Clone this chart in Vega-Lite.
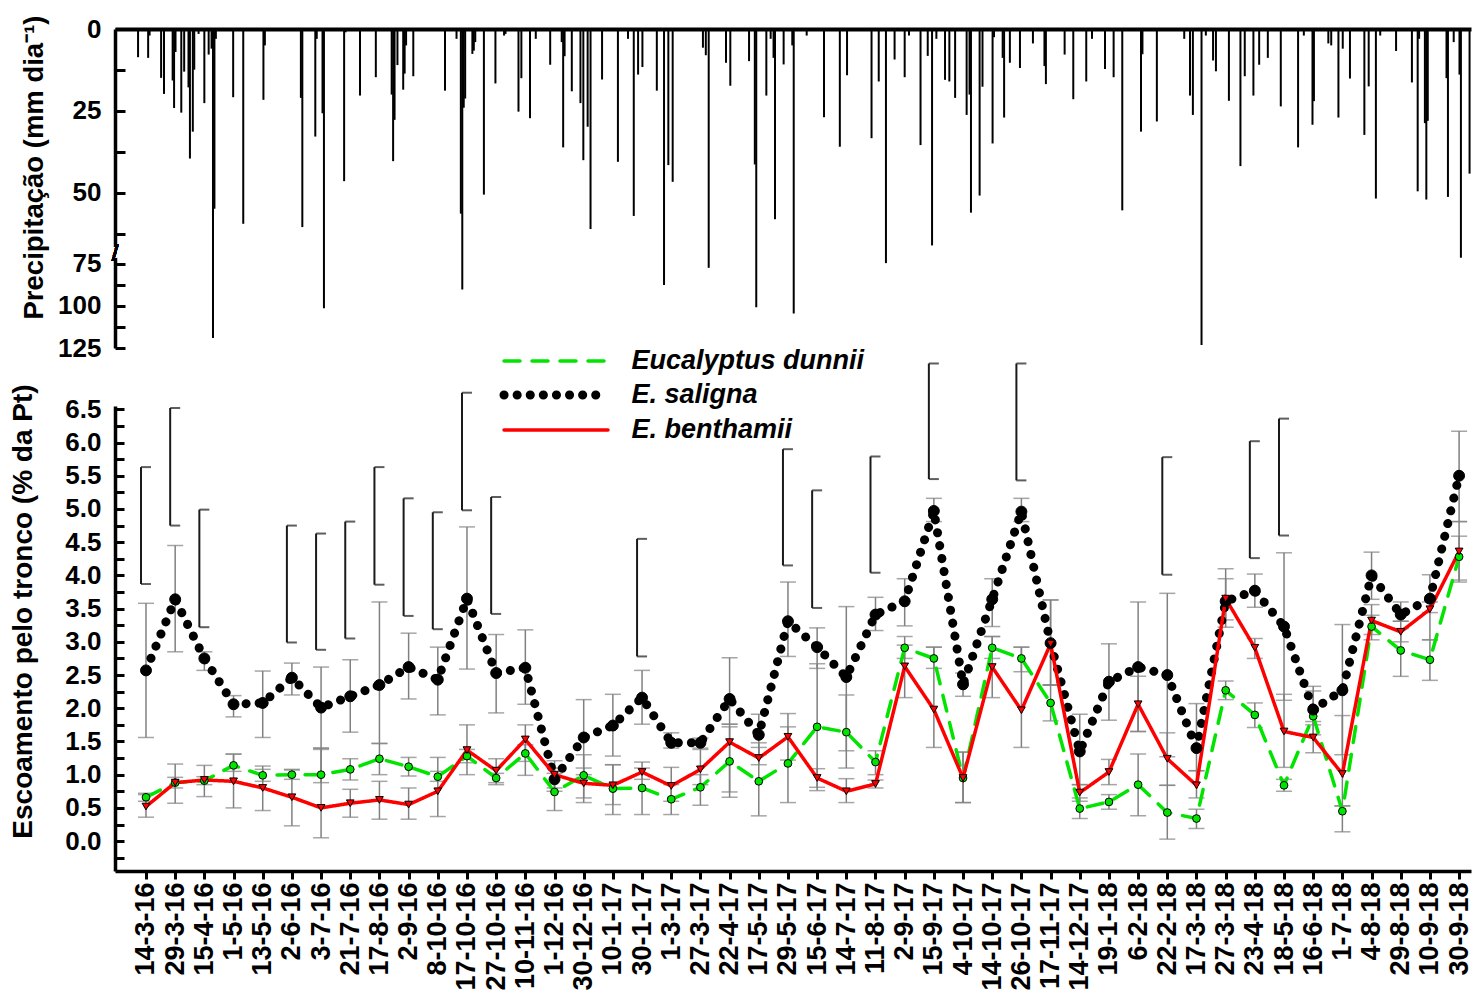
{
  "$schema": "https://vega.github.io/schema/vega-lite/v6.json",
  "background": "white",
  "padding": {"left": 8, "top": 15, "right": 0, "bottom": 0},
  "bounds": "flush",
  "spacing": 58,
  "config": {
    "font": "Liberation Sans",
    "view": {"stroke": null},
    "axis": {
      "labelFont": "Liberation Sans", "labelFontSize": 26, "labelFontWeight": "bold", "labelColor": "#000",
      "titleFont": "Liberation Sans", "titleFontSize": 28, "titleFontWeight": "bold", "titleColor": "#000",
      "domainColor": "#000", "tickColor": "#000", "grid": false, "labelOverlap": false
    }
  },
  "datasets": {
    "prec": [
      {"dia":16,"p":8.6},{"dia":23,"p":8.8},{"dia":24,"p":2},{"dia":32,"p":14.9},{"dia":34,"p":19.8},{"dia":40,"p":15.7},{"dia":41,"p":24.1},{"dia":42,"p":7},{"dia":46,"p":25.5},{"dia":48,"p":13},{"dia":51,"p":17.8},{"dia":52,"p":39.5},{"dia":54,"p":31.3},{"dia":55,"p":12.4},{"dia":58,"p":1.5},{"dia":62,"p":22.6},{"dia":65,"p":7.8},{"dia":67,"p":6},{"dia":68,"p":119},{"dia":69,"p":54.8},{"dia":70,"p":3},{"dia":82,"p":20.8},{"dia":89,"p":59.4},{"dia":103,"p":21.6},{"dia":104,"p":5},{"dia":129,"p":21},{"dia":130,"p":60.4},{"dia":139,"p":32.8},{"dia":140,"p":3},{"dia":144,"p":25.7},{"dia":145,"p":101.4},{"dia":159,"p":46.4},{"dia":160,"p":1},{"dia":170,"p":20.3},{"dia":181,"p":14.7},{"dia":192,"p":20},{"dia":193,"p":40.3},{"dia":194,"p":27.7},{"dia":196,"p":11},{"dia":200,"p":18.5},{"dia":201,"p":13.6},{"dia":202,"p":5},{"dia":207,"p":14.4},{"dia":229,"p":18.8},{"dia":237,"p":3},{"dia":240,"p":56.3},{"dia":241,"p":90.2},{"dia":242,"p":24},{"dia":243,"p":21.2},{"dia":248,"p":7.6},{"dia":249,"p":6.6},{"dia":250,"p":4},{"dia":256,"p":50.5},{"dia":264,"p":16.6},{"dia":270,"p":2},{"dia":271,"p":1.5},{"dia":280,"p":25.2},{"dia":282,"p":15},{"dia":288,"p":27.2},{"dia":292,"p":3},{"dia":302,"p":10.9},{"dia":310,"p":4},{"dia":311,"p":36.1},{"dia":312,"p":8.3},{"dia":317,"p":19},{"dia":323,"p":22.6},{"dia":325,"p":40},{"dia":328,"p":29.8},{"dia":330,"p":61},{"dia":338,"p":15.4},{"dia":349,"p":40.5},{"dia":356,"p":3},{"dia":360,"p":57},{"dia":363,"p":13.9},{"dia":366,"p":11.6},{"dia":376,"p":18.8},{"dia":381,"p":87.6},{"dia":384,"p":41.5},{"dia":387,"p":46.6},{"dia":408,"p":5.7},{"dia":410,"p":8},{"dia":412,"p":77.4},{"dia":424,"p":10.3},{"dia":427,"p":17.3},{"dia":440,"p":9.8},{"dia":444,"p":41.3},{"dia":445,"p":100.8},{"dia":452,"p":20.3},{"dia":455,"p":3},{"dia":457,"p":8.8},{"dia":458,"p":58},{"dia":464,"p":10.8},{"dia":470,"p":5},{"dia":471,"p":104.5},{"dia":480,"p":2},{"dia":492,"p":26.9},{"dia":503,"p":35.9},{"dia":508,"p":14.1},{"dia":525,"p":33.3},{"dia":530,"p":16},{"dia":535,"p":74.6},{"dia":541,"p":9.3},{"dia":548,"p":14.7},{"dia":551,"p":2},{"dia":559,"p":35.4},{"dia":564,"p":8.2},{"dia":567,"p":66},{"dia":570,"p":3},{"dia":576,"p":15.5},{"dia":579,"p":16},{"dia":583,"p":21},{"dia":591,"p":26.2},{"dia":593,"p":20},{"dia":594,"p":56},{"dia":600,"p":50.8},{"dia":602,"p":17.6},{"dia":609,"p":34.9},{"dia":610,"p":2.5},{"dia":616,"p":8.8},{"dia":617,"p":27},{"dia":621,"p":10.3},{"dia":628,"p":11.9},{"dia":637,"p":4.4},{"dia":645,"p":11.3},{"dia":646,"p":16.8},{"dia":659,"p":7.8},{"dia":665,"p":21.4},{"dia":674,"p":16},{"dia":678,"p":3},{"dia":687,"p":12.2},{"dia":693,"p":14.7},{"dia":699,"p":55.3},{"dia":712,"p":31.3},{"dia":713,"p":7.7},{"dia":723,"p":28.2},{"dia":742,"p":3},{"dia":746,"p":20.3},{"dia":748,"p":26.2},{"dia":754,"p":123.2},{"dia":757,"p":2},{"dia":762,"p":9.6},{"dia":764,"p":12.9},{"dia":773,"p":21.9},{"dia":781,"p":41.8},{"dia":784,"p":14.4},{"dia":790,"p":20.3},{"dia":794,"p":10.9},{"dia":800,"p":8.8},{"dia":809,"p":23.6},{"dia":821,"p":36.1},{"dia":825,"p":2},{"dia":831,"p":29.2},{"dia":832,"p":22},{"dia":842,"p":4.4},{"dia":844,"p":5},{"dia":849,"p":27},{"dia":852,"p":6},{"dia":857,"p":15.1},{"dia":867,"p":32.3},{"dia":870,"p":17.5},{"dia":875,"p":51.7},{"dia":878,"p":2},{"dia":889,"p":6.7},{"dia":900,"p":16.3},{"dia":904,"p":49.5},{"dia":905,"p":3},{"dia":909,"p":28.7},{"dia":910,"p":52},{"dia":911,"p":28},{"dia":924,"p":15},{"dia":925,"p":51.2},{"dia":929,"p":4},{"dia":933,"p":13.9},{"dia":934,"p":71.4},{"dia":940,"p":44.1}
    ],
    "colchetes": [
      {"coleta":"14-3-16","lo":3.87,"hi":5.63},{"coleta":"29-3-16","lo":4.75,"hi":6.52},{"coleta":"15-4-16","lo":3.22,"hi":4.99},{"coleta":"2-6-16","lo":2.99,"hi":4.75},{"coleta":"3-7-16","lo":2.88,"hi":4.63},{"coleta":"21-7-16","lo":3.05,"hi":4.81},{"coleta":"17-8-16","lo":3.86,"hi":5.63},{"coleta":"2-9-16","lo":3.39,"hi":5.16},{"coleta":"8-10-16","lo":3.19,"hi":4.95},{"coleta":"17-10-16","lo":4.98,"hi":6.75},{"coleta":"27-10-16","lo":3.42,"hi":5.18},{"coleta":"30-1-17","lo":2.78,"hi":4.55},{"coleta":"29-5-17","lo":4.15,"hi":5.9},{"coleta":"15-6-17","lo":3.51,"hi":5.28},{"coleta":"11-8-17","lo":4.04,"hi":5.79},{"coleta":"15-9-17","lo":5.45,"hi":7.19},{"coleta":"26-10-17","lo":5.43,"hi":7.19},{"coleta":"22-2-18","lo":4.01,"hi":5.78},{"coleta":"23-4-18","lo":4.26,"hi":6.02},{"coleta":"18-5-18","lo":4.6,"hi":6.36}
    ],
    "esc": [
      {"coleta":"14-3-16","especie":"Eucalyptus dunnii","v":0.66,"lo":0.6,"hi":0.72},
      {"coleta":"29-3-16","especie":"Eucalyptus dunnii","v":0.88,"lo":0.8,"hi":0.96},
      {"coleta":"15-4-16","especie":"Eucalyptus dunnii","v":0.91,"lo":0.85,"hi":0.97},
      {"coleta":"1-5-16","especie":"Eucalyptus dunnii","v":1.14,"lo":1.05,"hi":1.31},
      {"coleta":"13-5-16","especie":"Eucalyptus dunnii","v":0.99,"lo":0.9,"hi":1.08},
      {"coleta":"2-6-16","especie":"Eucalyptus dunnii","v":1.0,"lo":0.93,"hi":1.07},
      {"coleta":"3-7-16","especie":"Eucalyptus dunnii","v":1.0,"lo":0.88,"hi":1.4},
      {"coleta":"21-7-16","especie":"Eucalyptus dunnii","v":1.08,"lo":0.92,"hi":1.24},
      {"coleta":"17-8-16","especie":"Eucalyptus dunnii","v":1.24,"lo":1.0,"hi":1.47},
      {"coleta":"2-9-16","especie":"Eucalyptus dunnii","v":1.12,"lo":0.98,"hi":1.26},
      {"coleta":"8-10-16","especie":"Eucalyptus dunnii","v":0.97,"lo":0.9,"hi":1.05},
      {"coleta":"17-10-16","especie":"Eucalyptus dunnii","v":1.28,"lo":1.18,"hi":1.38},
      {"coleta":"27-10-16","especie":"Eucalyptus dunnii","v":0.95,"lo":0.88,"hi":1.02},
      {"coleta":"10-11-16","especie":"Eucalyptus dunnii","v":1.32,"lo":1.2,"hi":1.45},
      {"coleta":"1-12-16","especie":"Eucalyptus dunnii","v":0.74,"lo":0.46,"hi":1.02},
      {"coleta":"30-12-16","especie":"Eucalyptus dunnii","v":0.99,"lo":0.65,"hi":1.3},
      {"coleta":"10-1-17","especie":"Eucalyptus dunnii","v":0.79,"lo":0.4,"hi":1.15},
      {"coleta":"30-1-17","especie":"Eucalyptus dunnii","v":0.8,"lo":0.4,"hi":1.1},
      {"coleta":"1-3-17","especie":"Eucalyptus dunnii","v":0.63,"lo":0.4,"hi":0.85},
      {"coleta":"27-3-17","especie":"Eucalyptus dunnii","v":0.81,"lo":0.54,"hi":1.0},
      {"coleta":"22-4-17","especie":"Eucalyptus dunnii","v":1.2,"lo":0.74,"hi":1.72},
      {"coleta":"17-5-17","especie":"Eucalyptus dunnii","v":0.9,"lo":0.38,"hi":1.48},
      {"coleta":"29-5-17","especie":"Eucalyptus dunnii","v":1.17,"lo":0.58,"hi":1.72},
      {"coleta":"15-6-17","especie":"Eucalyptus dunnii","v":1.72,"lo":0.81,"hi":2.67},
      {"coleta":"14-7-17","especie":"Eucalyptus dunnii","v":1.64,"lo":1.1,"hi":2.2},
      {"coleta":"11-8-17","especie":"Eucalyptus dunnii","v":1.19,"lo":1.0,"hi":1.36},
      {"coleta":"2-9-17","especie":"Eucalyptus dunnii","v":2.91,"lo":2.75,"hi":3.08},
      {"coleta":"15-9-17","especie":"Eucalyptus dunnii","v":2.75,"lo":2.6,"hi":2.92},
      {"coleta":"4-10-17","especie":"Eucalyptus dunnii","v":0.95,"lo":0.58,"hi":1.34},
      {"coleta":"14-10-17","especie":"Eucalyptus dunnii","v":2.91,"lo":2.75,"hi":3.08},
      {"coleta":"26-10-17","especie":"Eucalyptus dunnii","v":2.75,"lo":2.55,"hi":2.92},
      {"coleta":"17-11-17","especie":"Eucalyptus dunnii","v":2.08,"lo":1.81,"hi":2.35},
      {"coleta":"14-12-17","especie":"Eucalyptus dunnii","v":0.49,"lo":0.34,"hi":0.65},
      {"coleta":"19-1-18","especie":"Eucalyptus dunnii","v":0.59,"lo":0.48,"hi":0.7},
      {"coleta":"6-2-18","especie":"Eucalyptus dunnii","v":0.85,"lo":0.38,"hi":1.31},
      {"coleta":"22-2-18","especie":"Eucalyptus dunnii","v":0.43,"lo":0.03,"hi":0.84},
      {"coleta":"17-3-18","especie":"Eucalyptus dunnii","v":0.34,"lo":0.19,"hi":0.48},
      {"coleta":"27-3-18","especie":"Eucalyptus dunnii","v":2.27,"lo":2.13,"hi":2.41},
      {"coleta":"23-4-18","especie":"Eucalyptus dunnii","v":1.9,"lo":1.71,"hi":2.08},
      {"coleta":"18-5-18","especie":"Eucalyptus dunnii","v":0.84,"lo":0.75,"hi":0.93},
      {"coleta":"16-6-18","especie":"Eucalyptus dunnii","v":1.88,"lo":1.6,"hi":2.26},
      {"coleta":"1-7-18","especie":"Eucalyptus dunnii","v":0.45,"lo":0.14,"hi":0.53},
      {"coleta":"4-8-18","especie":"Eucalyptus dunnii","v":3.23,"lo":3.03,"hi":3.4},
      {"coleta":"29-8-18","especie":"Eucalyptus dunnii","v":2.87,"lo":2.48,"hi":3.2},
      {"coleta":"10-9-18","especie":"Eucalyptus dunnii","v":2.73,"lo":2.42,"hi":3.03},
      {"coleta":"30-9-18","especie":"Eucalyptus dunnii","v":4.28,"lo":3.9,"hi":4.59},
      {"coleta":"14-3-16","especie":"E. saligna","v":2.57,"lo":1.56,"hi":3.58},
      {"coleta":"29-3-16","especie":"E. saligna","v":3.64,"lo":2.85,"hi":4.45},
      {"coleta":"15-4-16","especie":"E. saligna","v":2.75,"lo":2.57,"hi":2.85},
      {"coleta":"1-5-16","especie":"E. saligna","v":2.06,"lo":1.87,"hi":2.19},
      {"coleta":"13-5-16","especie":"E. saligna","v":2.08,"lo":1.56,"hi":2.56},
      {"coleta":"2-6-16","especie":"E. saligna","v":2.46,"lo":2.2,"hi":2.68},
      {"coleta":"3-7-16","especie":"E. saligna","v":2.01,"lo":1.4,"hi":2.62},
      {"coleta":"21-7-16","especie":"E. saligna","v":2.18,"lo":1.64,"hi":2.73},
      {"coleta":"17-8-16","especie":"E. saligna","v":2.35,"lo":1.47,"hi":3.6},
      {"coleta":"2-9-16","especie":"E. saligna","v":2.62,"lo":2.14,"hi":3.13},
      {"coleta":"8-10-16","especie":"E. saligna","v":2.43,"lo":1.9,"hi":2.92},
      {"coleta":"17-10-16","especie":"E. saligna","v":3.65,"lo":2.59,"hi":4.73},
      {"coleta":"27-10-16","especie":"E. saligna","v":2.53,"lo":1.93,"hi":3.11},
      {"coleta":"10-11-16","especie":"E. saligna","v":2.61,"lo":2.06,"hi":3.18},
      {"coleta":"1-12-16","especie":"E. saligna","v":0.93,"lo":0.75,"hi":1.1},
      {"coleta":"30-12-16","especie":"E. saligna","v":1.56,"lo":1.0,"hi":2.13},
      {"coleta":"10-1-17","especie":"E. saligna","v":1.74,"lo":1.28,"hi":2.21},
      {"coleta":"30-1-17","especie":"E. saligna","v":2.16,"lo":1.76,"hi":2.57},
      {"coleta":"1-3-17","especie":"E. saligna","v":1.48,"lo":1.4,"hi":1.63},
      {"coleta":"27-3-17","especie":"E. saligna","v":1.48,"lo":1.4,"hi":1.55},
      {"coleta":"22-4-17","especie":"E. saligna","v":2.14,"lo":1.76,"hi":2.76},
      {"coleta":"17-5-17","especie":"E. saligna","v":1.6,"lo":1.3,"hi":1.91},
      {"coleta":"29-5-17","especie":"E. saligna","v":3.31,"lo":2.78,"hi":3.9},
      {"coleta":"15-6-17","especie":"E. saligna","v":2.92,"lo":2.6,"hi":3.21},
      {"coleta":"14-7-17","especie":"E. saligna","v":2.47,"lo":1.36,"hi":3.53},
      {"coleta":"11-8-17","especie":"E. saligna","v":3.41,"lo":3.17,"hi":3.67},
      {"coleta":"2-9-17","especie":"E. saligna","v":3.61,"lo":3.24,"hi":3.95},
      {"coleta":"15-9-17","especie":"E. saligna","v":4.97,"lo":4.81,"hi":5.16},
      {"coleta":"4-10-17","especie":"E. saligna","v":2.36,"lo":2.18,"hi":2.53},
      {"coleta":"14-10-17","especie":"E. saligna","v":3.64,"lo":3.23,"hi":3.95},
      {"coleta":"26-10-17","especie":"E. saligna","v":4.96,"lo":4.81,"hi":5.16},
      {"coleta":"17-11-17","especie":"E. saligna","v":2.98,"lo":2.35,"hi":3.63},
      {"coleta":"14-12-17","especie":"E. saligna","v":1.35,"lo":0.85,"hi":1.91},
      {"coleta":"19-1-18","especie":"E. saligna","v":2.4,"lo":1.82,"hi":2.97},
      {"coleta":"6-2-18","especie":"E. saligna","v":2.62,"lo":1.65,"hi":3.6},
      {"coleta":"22-2-18","especie":"E. saligna","v":2.5,"lo":1.27,"hi":3.73},
      {"coleta":"17-3-18","especie":"E. saligna","v":1.4,"lo":1.06,"hi":2.07},
      {"coleta":"27-3-18","especie":"E. saligna","v":3.61,"lo":3.22,"hi":4.1},
      {"coleta":"23-4-18","especie":"E. saligna","v":3.77,"lo":3.52,"hi":4.02},
      {"coleta":"18-5-18","especie":"E. saligna","v":3.23,"lo":2.12,"hi":4.34},
      {"coleta":"16-6-18","especie":"E. saligna","v":1.98,"lo":1.75,"hi":2.33},
      {"coleta":"1-7-18","especie":"E. saligna","v":2.27,"lo":1.3,"hi":3.26},
      {"coleta":"4-8-18","especie":"E. saligna","v":4.0,"lo":3.64,"hi":4.35},
      {"coleta":"29-8-18","especie":"E. saligna","v":3.41,"lo":3.31,"hi":3.6},
      {"coleta":"10-9-18","especie":"E. saligna","v":3.65,"lo":3.44,"hi":4.01},
      {"coleta":"30-9-18","especie":"E. saligna","v":5.5,"lo":4.81,"hi":6.17},
      {"coleta":"14-3-16","especie":"E. benthamii","v":0.52,"lo":0.36,"hi":0.7},
      {"coleta":"29-3-16","especie":"E. benthamii","v":0.88,"lo":0.57,"hi":1.16},
      {"coleta":"15-4-16","especie":"E. benthamii","v":0.92,"lo":0.67,"hi":1.14},
      {"coleta":"1-5-16","especie":"E. benthamii","v":0.9,"lo":0.5,"hi":1.31},
      {"coleta":"13-5-16","especie":"E. benthamii","v":0.8,"lo":0.46,"hi":1.13},
      {"coleta":"2-6-16","especie":"E. benthamii","v":0.66,"lo":0.23,"hi":1.08},
      {"coleta":"3-7-16","especie":"E. benthamii","v":0.5,"lo":0.05,"hi":1.38},
      {"coleta":"21-7-16","especie":"E. benthamii","v":0.57,"lo":0.36,"hi":0.78},
      {"coleta":"17-8-16","especie":"E. benthamii","v":0.62,"lo":0.33,"hi":0.9},
      {"coleta":"2-9-16","especie":"E. benthamii","v":0.55,"lo":0.33,"hi":0.8},
      {"coleta":"8-10-16","especie":"E. benthamii","v":0.75,"lo":0.37,"hi":1.26},
      {"coleta":"17-10-16","especie":"E. benthamii","v":1.37,"lo":1.0,"hi":1.75},
      {"coleta":"27-10-16","especie":"E. benthamii","v":1.06,"lo":0.85,"hi":1.24},
      {"coleta":"10-11-16","especie":"E. benthamii","v":1.53,"lo":0.99,"hi":1.75},
      {"coleta":"1-12-16","especie":"E. benthamii","v":1.0,"lo":0.8,"hi":1.21},
      {"coleta":"30-12-16","especie":"E. benthamii","v":0.87,"lo":0.58,"hi":1.1},
      {"coleta":"10-1-17","especie":"E. benthamii","v":0.84,"lo":0.55,"hi":1.15},
      {"coleta":"30-1-17","especie":"E. benthamii","v":1.04,"lo":0.93,"hi":1.19},
      {"coleta":"1-3-17","especie":"E. benthamii","v":0.83,"lo":0.6,"hi":1.11},
      {"coleta":"27-3-17","especie":"E. benthamii","v":1.08,"lo":0.85,"hi":1.38},
      {"coleta":"22-4-17","especie":"E. benthamii","v":1.49,"lo":0.66,"hi":1.76},
      {"coleta":"17-5-17","especie":"E. benthamii","v":1.25,"lo":1.15,"hi":1.41},
      {"coleta":"29-5-17","especie":"E. benthamii","v":1.57,"lo":1.22,"hi":1.92},
      {"coleta":"15-6-17","especie":"E. benthamii","v":0.95,"lo":0.76,"hi":1.09},
      {"coleta":"14-7-17","especie":"E. benthamii","v":0.75,"lo":0.58,"hi":0.94},
      {"coleta":"11-8-17","especie":"E. benthamii","v":0.86,"lo":0.8,"hi":0.92},
      {"coleta":"2-9-17","especie":"E. benthamii","v":2.63,"lo":2.16,"hi":2.95},
      {"coleta":"15-9-17","especie":"E. benthamii","v":1.98,"lo":1.41,"hi":2.92},
      {"coleta":"4-10-17","especie":"E. benthamii","v":0.95,"lo":0.58,"hi":1.34},
      {"coleta":"14-10-17","especie":"E. benthamii","v":2.62,"lo":2.16,"hi":3.08},
      {"coleta":"26-10-17","especie":"E. benthamii","v":1.97,"lo":1.41,"hi":2.92},
      {"coleta":"17-11-17","especie":"E. benthamii","v":2.97,"lo":2.35,"hi":3.63},
      {"coleta":"14-12-17","especie":"E. benthamii","v":0.73,"lo":0.6,"hi":0.85},
      {"coleta":"19-1-18","especie":"E. benthamii","v":1.04,"lo":0.85,"hi":1.23},
      {"coleta":"6-2-18","especie":"E. benthamii","v":2.06,"lo":1.65,"hi":2.48},
      {"coleta":"22-2-18","especie":"E. benthamii","v":1.24,"lo":0.84,"hi":1.63},
      {"coleta":"17-3-18","especie":"E. benthamii","v":0.84,"lo":0.65,"hi":1.06},
      {"coleta":"27-3-18","especie":"E. benthamii","v":3.65,"lo":3.33,"hi":3.95},
      {"coleta":"23-4-18","especie":"E. benthamii","v":2.91,"lo":2.75,"hi":3.05},
      {"coleta":"18-5-18","especie":"E. benthamii","v":1.65,"lo":1.11,"hi":2.21},
      {"coleta":"16-6-18","especie":"E. benthamii","v":1.56,"lo":1.33,"hi":1.8},
      {"coleta":"1-7-18","especie":"E. benthamii","v":1.01,"lo":0.53,"hi":1.89},
      {"coleta":"4-8-18","especie":"E. benthamii","v":3.32,"lo":3.11,"hi":3.56},
      {"coleta":"29-8-18","especie":"E. benthamii","v":3.15,"lo":3.0,"hi":3.31},
      {"coleta":"10-9-18","especie":"E. benthamii","v":3.49,"lo":3.03,"hi":3.6},
      {"coleta":"30-9-18","especie":"E. benthamii","v":4.36,"lo":3.93,"hi":4.81}
    ]
  },
  "vconcat": [
    {
      "width": 1356,
      "height": 319,
      "data": {"name": "prec"},
      "layer": [
        {
          "mark": {"type": "rule", "color": "#000", "strokeWidth": 2},
          "encoding": {
            "x": {"field": "dia", "type": "quantitative", "scale": {"domain": [0, 941], "nice": false, "zero": false},
                  "axis": {"orient": "top", "labels": false, "ticks": false, "domainWidth": 4, "title": null}},
            "y": {"field": "p", "type": "quantitative", "scale": {"domain": [0, 68, 125], "range": [0, 223, 319], "nice": false},
                  "axis": {"values": [0, 12.5, 25, 37.5, 50, 62.5, 75, 87.5, 100, 112.5, 125], "tickCount": 200,
                           "format": "d",
                           "labelExpr": "datum.value % 25 === 0 ? datum.label : ''", "labelOverlap": false,
                           "tickSize": -10, "tickWidth": 3, "domainWidth": 3.5, "labelPadding": 24,
                           "title": "Precipitação (mm dia⁻¹)", "titleFontSize": 27.5, "titleX": -67, "titleY": 138}},
            "y2": {"datum": 0}
          }
        },
        {
          "mark": {"type": "rule", "color": "white", "strokeWidth": 9},
          "encoding": {"x": {"datum": 0}, "y": {"datum": 66.5}, "y2": {"datum": 71}}
        },
        {
          "mark": {"type": "text", "text": "/", "fontSize": 24, "fontWeight": "normal", "color": "#000"},
          "encoding": {"x": {"datum": 0}, "y": {"datum": 69}}
        }
      ]
    },
    {
      "width": 1356,
      "height": 465,
      "encoding": {
        "x": {"field": "coleta", "type": "ordinal", "sort": null,
              "scale": {"type": "point", "padding": 0.735, "align": 0.7226,
                        "domain": ["14-3-16","29-3-16","15-4-16","1-5-16","13-5-16","2-6-16","3-7-16","21-7-16","17-8-16","2-9-16","8-10-16","17-10-16","27-10-16","10-11-16","1-12-16","30-12-16","10-1-17","30-1-17","1-3-17","27-3-17","22-4-17","17-5-17","29-5-17","15-6-17","14-7-17","11-8-17","2-9-17","15-9-17","4-10-17","14-10-17","26-10-17","17-11-17","14-12-17","19-1-18","6-2-18","22-2-18","17-3-18","27-3-18","23-4-18","18-5-18","16-6-18","1-7-18","4-8-18","29-8-18","10-9-18","30-9-18"]},
              "axis": {"title": null, "labelAngle": 270, "labelFontSize": 27, "tickSize": 8, "tickWidth": 3, "domainWidth": 3.5, "labelPadding": 3}}
      },
      "layer": [
        {
          "data": {"name": "esc"},
          "mark": {"type": "rule", "color": "#808080", "strokeWidth": 1.5},
          "encoding": {
            "y": {"field": "lo", "type": "quantitative", "scale": {"domain": [-0.45, 6.55], "nice": false, "zero": false},
                  "axis": {"values": [-0.25,0,0.25,0.5,0.75,1,1.25,1.5,1.75,2,2.25,2.5,2.75,3,3.25,3.5,3.75,4,4.25,4.5,4.75,5,5.25,5.5,5.75,6,6.25,6.5],
                           "tickCount": 200, "format": ".1f", "labelOverlap": false, "labelBound": false,
                           "labelExpr": "datum.value >= 0 && (datum.value * 4) % 2 === 0 ? datum.label : ''",
                           "tickSize": -9, "tickWidth": 3, "domainWidth": 3.5, "labelPadding": 23,
                           "title": "Escoamento pelo tronco (% da Pt)", "titleX": -78, "titleY": 205}},
            "y2": {"field": "hi"}
          }
        },
        {
          "data": {"name": "esc"},
          "mark": {"type": "tick", "color": "#808080", "thickness": 1.5, "size": 16},
          "encoding": {"y": {"field": "lo", "type": "quantitative"}}
        },
        {
          "data": {"name": "esc"},
          "mark": {"type": "tick", "color": "#808080", "thickness": 1.5, "size": 16},
          "encoding": {"y": {"field": "hi", "type": "quantitative"}}
        },
        {
          "data": {"name": "colchetes"},
          "mark": {"type": "rule", "color": "#1a1a1a", "strokeWidth": 2, "xOffset": -5},
          "encoding": {"y": {"field": "lo", "type": "quantitative"}, "y2": {"field": "hi"}}
        },
        {
          "data": {"name": "colchetes"},
          "mark": {"type": "tick", "color": "#1a1a1a", "thickness": 2, "size": 10},
          "encoding": {"y": {"field": "lo", "type": "quantitative"}}
        },
        {
          "data": {"name": "colchetes"},
          "mark": {"type": "tick", "color": "#1a1a1a", "thickness": 2, "size": 10},
          "encoding": {"y": {"field": "hi", "type": "quantitative"}}
        },
        {
          "data": {"name": "esc"},
          "mark": {"type": "line", "strokeCap": "round"},
          "encoding": {
            "y": {"field": "v", "type": "quantitative"},
            "order": {"value": null},
            "color": {"field": "especie", "type": "nominal",
                      "scale": {"domain": ["Eucalyptus dunnii", "E. saligna", "E. benthamii"], "range": ["#00E400", "#000000", "#FF0000"]},
                      "legend": {"orient": "none", "legendX": 389, "legendY": 318.5, "title": null,
                                 "symbolType": "M-8,0H8", "symbolSize": 169, "symbolOffset": 38.5,
                                 "labelOffset": 62, "labelFont": "Liberation Sans", "labelFontSize": 27,
                                 "labelFontWeight": "bold", "labelFontStyle": "italic", "labelColor": "#000",
                                 "labelLimit": 0, "rowPadding": 2,
                                 "encode": {"symbols": {"update": {"strokeCap": {"value": "round"}}}}}},
            "strokeDash": {"field": "especie", "type": "nominal",
                           "scale": {"domain": ["Eucalyptus dunnii", "E. saligna", "E. benthamii"], "range": [[16, 12], [0.1, 13], [1, 0]]}},
            "strokeWidth": {"field": "especie", "type": "nominal",
                            "scale": {"type": "ordinal", "domain": ["Eucalyptus dunnii", "E. saligna", "E. benthamii"], "range": [3.5, 9, 3.5]}}
          }
        },
        {
          "data": {"name": "esc"},
          "mark": {"type": "point", "filled": true, "stroke": "#000", "strokeWidth": 1, "opacity": 1},
          "encoding": {
            "y": {"field": "v", "type": "quantitative"},
            "shape": {"condition": {"test": "datum.especie === 'E. benthamii'", "value": "triangle-down"}, "value": "circle"},
            "fill": {"condition": [
                       {"test": "datum.especie === 'Eucalyptus dunnii'", "value": "#00E400"},
                       {"test": "datum.especie === 'E. benthamii'", "value": "#FF0000"}],
                     "value": "#000000"},
            "size": {"condition": {"test": "datum.especie === 'E. saligna'", "value": 120}, "value": 60}
          }
        }
      ]
    }
  ]
}
